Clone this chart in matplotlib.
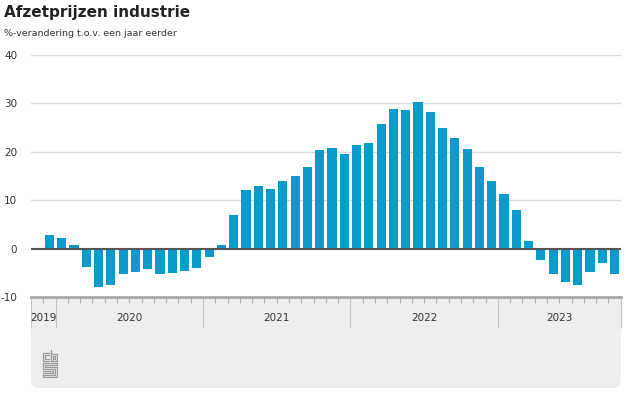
import matplotlib
matplotlib.use("Agg")
import matplotlib.pyplot as plt
from matplotlib.patches import FancyBboxPatch, Rectangle

# data: year-on-year change, Dec 2019 .. Oct 2023
jaren = [2019] + [2020] * 12 + [2021] * 12 + [2022] * 12 + [2023] * 10
maanden = [12] + list(range(1, 13)) * 3 + list(range(1, 11))
waarden = [2.8,
           2.1, 0.8, -3.8, -8.0, -7.6, -5.3, -4.8, -4.2, -5.2, -5.0, -4.6, -4.0,
           -1.7, 0.7, 7.0, 12.2, 12.9, 12.3, 13.9, 15.0, 16.9, 20.3, 20.7, 19.6,
           21.4, 21.8, 25.8, 28.9, 28.7, 30.2, 28.2, 24.9, 22.8, 20.5, 16.9, 13.9,
           11.2, 8.0, 1.5, -2.4, -5.2, -7.0, -7.6, -4.9, -3.0, -5.2]
jaar_labels = ["2019", "2020", "2021", "2022", "2023"]

W, H = 626, 394
fig = plt.figure(figsize=(W / 100, H / 100), dpi=100)

x0, x1 = 31, 620.7      # plot area in pixels
ytop, ybot = 55, 297
ax = fig.add_axes([x0 / W, (H - ybot) / H, (x1 - x0) / W, (ybot - ytop) / H])
ax.patch.set_alpha(0)

# grey band under the chart
band = FancyBboxPatch((x0 / W, (H - 388) / H), (x1 - x0) / W, (388 - ybot) / H,
                      boxstyle="round,pad=0,rounding_size=0.012",
                      transform=fig.transFigure, facecolor="#eeeeee",
                      edgecolor="none", zorder=-5, mutation_aspect=W / H)
fig.patches.append(band)
fig.patches.append(Rectangle((x0 / W, (H - 330) / H), (x1 - x0) / W, (330 - ybot) / H,
                             transform=fig.transFigure, facecolor="#eeeeee",
                             edgecolor="none", zorder=-5))

# bars: month index counted from Jan 2019
xpos = [(j - 2019) * 12 + (m - 1) + 0.5 for j, m in zip(jaren, maanden)]
ax.bar(xpos, waarden, width=0.74, color="#0a9bcd", zorder=3)

ax.set_xlim(10, 58)
ax.set_ylim(-10, 40)

# gridlines
ax.set_yticks([-10, 0, 10, 20, 30, 40])
ax.set_yticklabels(["-10", "0", "10", "20", "30", "40"])
for v in [10, 20, 30, 40]:
    ax.axhline(v, color="#dcdcdc", lw=1.0, zorder=1)
ax.axhline(0, color="#555555", lw=1.5, zorder=4)
ax.axhline(-10, color="#a8a8a8", lw=2.0, zorder=4, clip_on=False)

for s in ax.spines.values():
    s.set_visible(False)
ax.tick_params(axis="y", length=0, pad=10, labelsize=7.5, labelcolor="#333333")

# month ticks (minor) and year boundaries (major), lengths in points
grenzen = [10, 12, 24, 36, 48, 58]
ax.set_xticks(grenzen)
ax.set_xticks(list(range(10, 59)), minor=True)
ax.set_xticklabels([])
ax.tick_params(axis="x", which="major", length=22, width=0.8, color="#c4c4c4", direction="out")
ax.tick_params(axis="x", which="minor", length=4.5, width=0.8, color="#b0b0b0", direction="out")

# year labels centred in each year
for i, lab in enumerate(jaar_labels):
    xc = (grenzen[i] + grenzen[i + 1]) / 2
    ax.text(xc, -0.085, lab, transform=ax.get_xaxis_transform(), ha="center",
            va="center", fontsize=7.5, color="#333333")

# titles
fig.text(4 / W, 1 - 12 / H, "Afzetprijzen industrie", fontsize=11, fontweight="bold",
         color="#222222", va="center")
fig.text(4 / W, 1 - 34 / H, "%-verandering t.o.v. een jaar eerder", fontsize=6.8,
         color="#333333", va="center")

# simple cbs logo
lax = fig.add_axes([42 / W, (H - 378) / H, 16 / W, 28 / H])
lax.set_xlim(0, 16)
lax.set_ylim(0, 28)
lax.axis("off")
kl = "#9a9a9a"
lw = 0.9
# c
lax.plot([7, 1, 1, 7], [25, 25, 17, 17], color=kl, lw=lw)
lax.plot([7, 3, 3, 7], [23, 23, 19, 19], color=kl, lw=lw)
# b
lax.plot([9, 9, 15, 15, 9], [28, 17, 17, 24, 24], color=kl, lw=lw)
lax.plot([11, 13, 13, 11, 11], [19, 19, 22, 22, 19], color=kl, lw=lw)
# s
lax.plot([15, 1, 1, 13, 13, 1], [15, 15, 9, 9, 3, 3], color=kl, lw=lw)
lax.plot([15, 3, 3, 15, 15, 1, 1], [13, 13, 11, 11, 1, 1, 3], color=kl, lw=lw)
lax.plot([15, 15], [15, 13], color=kl, lw=lw)
lax.plot([1, 11, 11, 1], [5, 5, 7, 7], color=kl, lw=lw)

fig.savefig("out.png", dpi=100)
